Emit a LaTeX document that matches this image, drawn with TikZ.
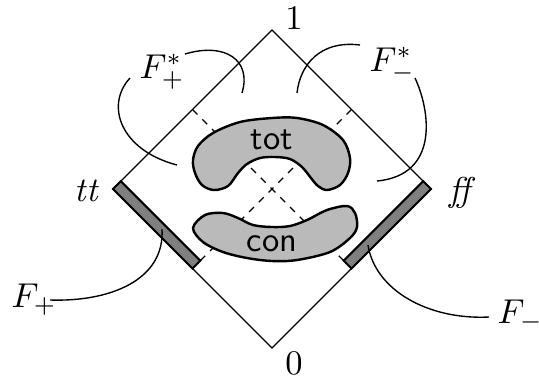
\documentclass[tikz,border=0pt]{standalone}
\usetikzlibrary{calc}
\definecolor{blobgray}{HTML}{BABABA}
\definecolor{bargray}{HTML}{808080}
\begin{document}
\begin{tikzpicture}[x=0.29pt,y=-0.29pt,
  edge/.style={line width=0.4pt},
  axisline/.style={line width=0.35pt, dash pattern=on 2pt off 2pt},
  blob/.style={draw, fill=blobgray, line width=0.7pt},
  barbox/.style={draw, fill=bargray, line width=0.6pt},
  leader/.style={line width=0.4pt},
  lab/.style={inner sep=0pt}]
\useasboundingbox (0,0) rectangle (539,378);
% vertices
\coordinate (T) at (272,30);
\coordinate (B) at (272,348);
\coordinate (L) at (113,189);
\coordinate (R) at (431,189);
\coordinate (ul) at (192.5,109.5);
\coordinate (ur) at (351.5,109.5);
\coordinate (ll) at (192.5,268.5);
\coordinate (lr) at (351.5,268.5);
% diamond
\draw[edge] (L) -- (T) -- (R) -- (B) -- cycle;
% diagonals
\draw[axisline] (ul) -- (lr);
\draw[axisline] (ur) -- (ll);
% bars
\draw[barbox] (L) -- (ll) -- ($(ll)+(7.8,-7.8)$) -- ($(L)+(7.8,-7.8)$) -- cycle;
\draw[barbox] (R) -- (lr) -- ($(lr)+(-7.8,-7.8)$) -- ($(R)+(-7.8,-7.8)$) -- cycle;
% blobs
\draw[blob] plot[smooth cycle, tension=0.55] coordinates {(272,118) (297,118) (323,125) (343,140) (350,158) (348,173) (340,185) (327,190) (318,186) (311,178) (302,167) (290,159) (275,157) (260,158) (247,164) (238,173) (228,186) (214,190) (202,185) (195,173) (193,160) (198,146) (213,133) (240,122)};
\draw[blob] plot[smooth cycle, tension=0.55] coordinates {(193,228) (205,215) (223,213) (238,218) (253,225) (272,227) (290,226) (307,220) (327,210) (347,206) (355,213) (357,227) (350,238) (330,252) (297,260) (272,261) (247,258) (223,252) (203,242)};
\node[lab] (tot) at (272,140) {\sffamily tot};
\node[lab] (con) at (272,244) {\sffamily con};
% vertex labels
\node[lab] (one) at (294,18) {$1$};
\node[lab] (zero) at (294,363) {$0$};
\node[lab, anchor=base west] (tt) at (74,201) {\textit{tt}};
\node[lab, anchor=base west] (ff) at (449,201) {\textit{ff}};
% F labels
\node[lab, anchor=base west] (Fps) at (139,78) {$F_+^*$};
\node[lab, anchor=base west] (Fms) at (369,71) {$F_-^*$};
\node[lab, anchor=base west] (Fp) at (11,307) {$F_+$};
\node[lab, anchor=base west] (Fm) at (497,323) {$F_-$};
% leader ends
\coordinate (a1) at (130,78);
\coordinate (a2) at (177,165);
\coordinate (b1) at (185,54);
\coordinate (b2) at (242,93);
\coordinate (c1) at (360,45);
\coordinate (c2) at (297,93);
\coordinate (d1) at (415,78);
\coordinate (d2) at (377,181);
\coordinate (e1) at (50,300);
\coordinate (e2) at (162,229);
\coordinate (f1) at (489,317);
\coordinate (f2) at (368,245);
\draw[leader] (a1) .. controls (105,105) and (120,150) .. (a2);
\draw[leader] (b1) .. controls (225,42) and (252,60) .. (b2);
\draw[leader] (c1) .. controls (320,40) and (300,65) .. (c2);
\draw[leader] (d1) .. controls (430,110) and (440,175) .. (d2);
\draw[leader] (e1) .. controls (110,302) and (165,280) .. (e2);
\draw[leader] (f1) .. controls (428,320) and (375,290) .. (f2);
\end{tikzpicture}
\end{document}
